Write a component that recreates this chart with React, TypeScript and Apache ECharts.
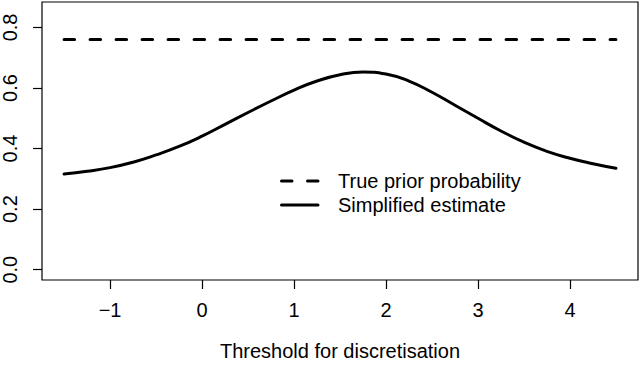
import React, { useEffect, useRef } from "react";
import * as echarts from "echarts";

const thresholds = [-1.5, -1.25, -1.0, -0.75, -0.5, -0.25, 0, 0.25, 0.5, 0.75, 1.0, 1.25, 1.5, 1.75, 2.0, 2.25, 2.5, 2.75, 3.0, 3.25, 3.5, 3.75, 4.0, 4.25, 4.5];
const simplifiedEstimate = [0.316, 0.325, 0.337, 0.355, 0.379, 0.407, 0.441, 0.48, 0.519, 0.557, 0.593, 0.623, 0.644, 0.653, 0.646, 0.623, 0.586, 0.543, 0.5, 0.458, 0.421, 0.391, 0.368, 0.35, 0.335];
const truePrior = 0.76;
const xTicks = [-1, 0, 1, 2, 3, 4];
const yTicks = [0, 0.2, 0.4, 0.6, 0.8];
const legendLabels = ["True prior probability", "Simplified estimate"];
const xTitle = "Threshold for discretisation";

const FONT = "'Liberation Sans', Arial, Helvetica, sans-serif";

export default function App() {
  const ref = useRef<HTMLDivElement>(null);
  useEffect(() => {
    document.body.style.margin = "0";
    if (!ref.current) return;
    const chart = echarts.init(ref.current, null, { renderer: "svg" });
    const xMin = Math.min(...thresholds);
    const xMax = Math.max(...thresholds);
    const xPad = (xMax - xMin) * 0.04;
    const yLo = 0;
    const yHi = 0.85;
    const yPad = (yHi - yLo) * 0.04;
    chart.setOption({
      animation: false,
      grid: {
        left: 39,
        right: 2,
        top: 2,
        bottom: 82,
        show: true,
        borderColor: "#000",
        borderWidth: 1.2,
        backgroundColor: "transparent",
      },
      xAxis: {
        type: "value",
        min: xMin - xPad,
        max: xMax + xPad,
        name: xTitle,
        nameLocation: "middle",
        nameGap: 61,
        nameTextStyle: { fontSize: 20, color: "#000", fontFamily: FONT },
        axisLine: { show: false, onZero: false },
        axisTick: { show: true, length: 9, lineStyle: { color: "#000", width: 1.2 }, customValues: xTicks },
        axisLabel: { fontSize: 20, color: "#000", fontFamily: FONT, margin: 20, customValues: xTicks, formatter: (v: number) => (v < 0 ? "\u2212" + Math.abs(v) : String(v)) },
        splitLine: { show: false },
      },
      yAxis: {
        type: "value",
        min: yLo - yPad,
        max: yHi + yPad,
        axisLine: { show: false, onZero: false },
        axisTick: { show: true, length: 9, lineStyle: { color: "#000", width: 1.2 }, customValues: yTicks },
        axisLabel: { fontSize: 20, color: "#000", fontFamily: FONT, margin: 22, rotate: 90, customValues: yTicks, formatter: (v: number) => v.toFixed(1) },
        splitLine: { show: false },
      },
      series: [
        {
          name: legendLabels[0],
          type: "line",
          data: [[xMin, truePrior], [xMax, truePrior]],
          symbol: "none",
          lineStyle: { color: "#000", width: 3, type: [10.5, 15.5], cap: "round" },
        },
        {
          name: legendLabels[1],
          type: "line",
          data: thresholds.map((x, i) => [x, simplifiedEstimate[i]]),
          symbol: "none",
          smooth: 0.5,
          lineStyle: { color: "#000", width: 3, cap: "round", join: "round" },
        },
      ],
      graphic: [
        { type: "line", shape: { x1: 281.5, y1: 181, x2: 319, y2: 181 }, style: { stroke: "#000", lineWidth: 3, lineDash: [10.5, 15.5], lineCap: "round" } },
        { type: "line", shape: { x1: 281.5, y1: 205, x2: 318, y2: 205 }, style: { stroke: "#000", lineWidth: 3, lineCap: "round" } },
        { type: "text", x: 338, y: 181, style: { text: legendLabels[0], fontSize: 20, fill: "#000", fontFamily: FONT, verticalAlign: "middle" } },
        { type: "text", x: 338, y: 205, style: { text: legendLabels[1], fontSize: 20, fill: "#000", fontFamily: FONT, verticalAlign: "middle" } },
      ],
    });
    return () => chart.dispose();
  }, []);
  return <div ref={ref} style={{ width: 640, height: 366 }} />;
}
